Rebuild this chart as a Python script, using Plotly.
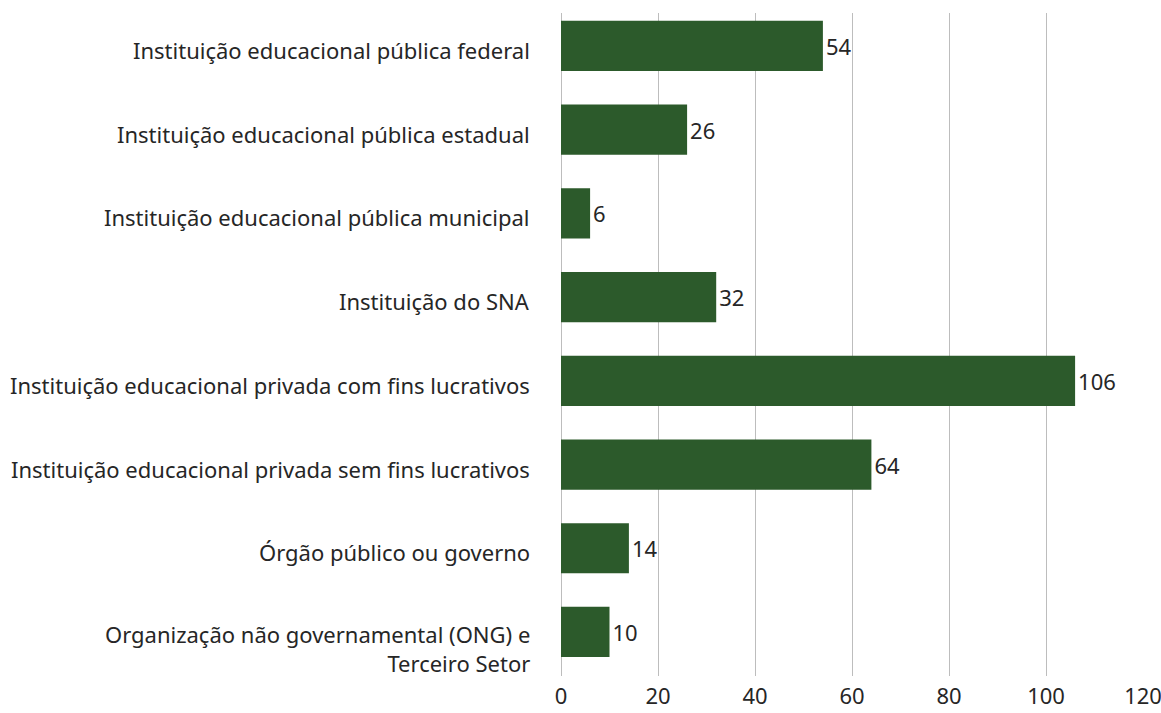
import plotly.graph_objects as go

categories = [
    "Instituição educacional pública federal",
    "Instituição educacional pública estadual",
    "Instituição educacional pública municipal",
    "Instituição do SNA",
    "Instituição educacional privada com fins lucrativos",
    "Instituição educacional privada sem fins lucrativos",
    "Órgão público ou governo",
    "Organização não governamental (ONG) e<br>Terceiro Setor",
]
values = [54, 26, 6, 32, 106, 64, 14, 10]
x_ticks = [0, 20, 40, 60, 80, 100, 120]

W, H = 1161, 713
FONT = "Noto Sans"
TEXT_COLOR = "#262626"
BAR_COLOR = "#2c5a2b"
GRID_COLOR = "#bdbdbd"
FS = 22

ypos = list(range(len(categories)))

fig = go.Figure(
    go.Bar(
        x=values,
        y=ypos,
        orientation="h",
        marker=dict(color=BAR_COLOR, line=dict(width=0)),
        text=[str(v) for v in values],
        textposition="outside",
        textfont=dict(family=FONT, size=FS, color=TEXT_COLOR),
        cliponaxis=False,
        width=0.6,
        hoverinfo="skip",
    )
)

# category labels, right-aligned to the left of the plot area;
# wrapped labels hang down from the bar's centre line
for yi, label in zip(ypos, categories):
    n_lines = label.count("<br>") + 1
    fig.add_annotation(
        x=0, xref="paper", xanchor="right", xshift=-29,
        y=yi, yref="y", yanchor="middle",
        yshift=-4 - 13 * (n_lines - 1),
        text=label, showarrow=False, align="right",
        font=dict(family=FONT, size=FS, color=TEXT_COLOR),
    )

fig.update_layout(
    template="none",
    width=W,
    height=H,
    margin=dict(l=561, r=18, t=13, b=37, autoexpand=False),
    paper_bgcolor="white",
    plot_bgcolor="white",
    showlegend=False,
    font=dict(family=FONT, size=FS, color=TEXT_COLOR),
    xaxis=dict(
        range=[0, 120],
        tickvals=x_ticks,
        ticktext=[str(t) for t in x_ticks],
        showgrid=True,
        gridcolor=GRID_COLOR,
        gridwidth=1,
        zeroline=True,
        zerolinecolor=GRID_COLOR,
        zerolinewidth=1,
        showline=False,
        ticks="",
        automargin=False,
        ticklabeloverflow="allow",
        ticklabelstandoff=5,
        tickfont=dict(family=FONT, size=FS, color=TEXT_COLOR),
        fixedrange=True,
    ),
    yaxis=dict(
        range=[7.526, -0.394],
        tickvals=ypos,
        showticklabels=False,
        showgrid=False,
        zeroline=False,
        showline=False,
        ticks="",
        automargin=False,
        fixedrange=True,
    ),
)

fig.write_html("out.html")
